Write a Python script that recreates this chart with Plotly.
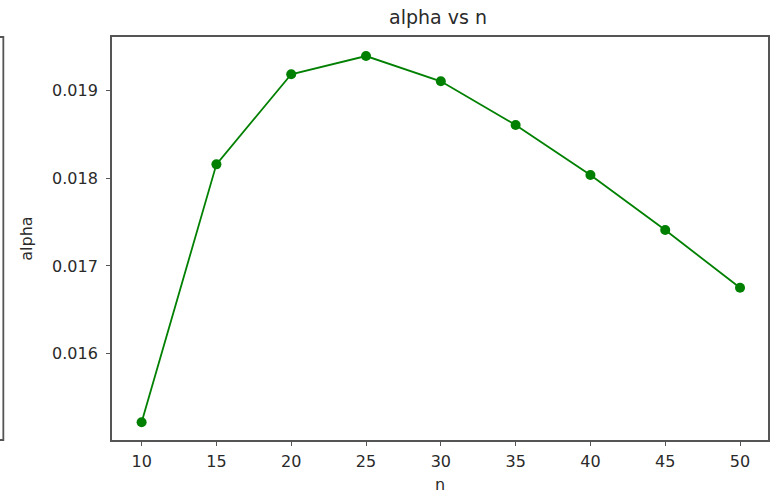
import plotly.graph_objects as go

# sample sizes and fitted alpha values
n_values = [10, 15, 20, 25, 30, 35, 40, 45, 50]
alpha_values = [0.015217, 0.018158, 0.019185, 0.019393, 0.019105,
                0.018607, 0.018036, 0.017409, 0.016751]
y_ticks = [0.016, 0.017, 0.018, 0.019]
x_ticks = [10, 15, 20, 25, 30, 35, 40, 45, 50]

W, H = 771, 494
ML, MR, MT, MB = 112, 1, 37, 54
plot_w = W - ML - MR
plot_h = H - MT - MB

spine = "#555555"
text_col = "#2a2a2a"
font_family = "DejaVu Sans, sans-serif"

fig = go.Figure()
fig.add_trace(go.Scatter(
    x=n_values, y=alpha_values, mode="lines+markers",
    line=dict(color="#008000", width=1.8),
    marker=dict(color="#008000", size=10),
    showlegend=False,
))


def px_to_paper_x(px):
    return (px - ML) / plot_w


def px_to_paper_y(py):
    return (H - MB - py) / plot_h


# spine of the neighbouring subplot, cut off at the left edge
fig.add_shape(
    type="path", xref="paper", yref="paper",
    path=(f"M {px_to_paper_x(-2)} {px_to_paper_y(37)} "
          f"L {px_to_paper_x(3)} {px_to_paper_y(37)} "
          f"L {px_to_paper_x(3)} {px_to_paper_y(440)} "
          f"L {px_to_paper_x(-2)} {px_to_paper_y(440)}"),
    line=dict(color=spine, width=1.8),
)

axis_common = dict(
    showgrid=False, zeroline=False, showline=True, mirror=True,
    linecolor=spine, linewidth=1.8, ticks="outside", ticklen=4,
    tickwidth=1, tickcolor=spine,
    tickfont=dict(family=font_family, size=16, color=text_col),
)

fig.update_layout(
    width=W, height=H,
    margin=dict(l=ML, r=MR, t=MT, b=MB),
    paper_bgcolor="white", plot_bgcolor="white",
    title=dict(text="alpha vs n", x=(ML + plot_w / 2 - 3) / W, xanchor="center",
               y=1 - 17 / H, yanchor="middle",
               font=dict(family=font_family, size=19, color=text_col)),
    xaxis=dict(range=[8.02, 51.87], tickvals=x_ticks,
               ticktext=[str(v) for v in x_ticks],
               ticklabelstandoff=2,
               title=dict(text="n", standoff=10,
                          font=dict(family=font_family, size=16, color=text_col)),
               **axis_common),
    yaxis=dict(range=[0.015015, 0.01961], tickvals=y_ticks,
               ticktext=[f"{v:.3f}" for v in y_ticks],
               ticklabelstandoff=5,
               title=dict(text="alpha", standoff=15,
                          font=dict(family=font_family, size=16, color=text_col)),
               **axis_common),
)

fig.write_html("out.html")
